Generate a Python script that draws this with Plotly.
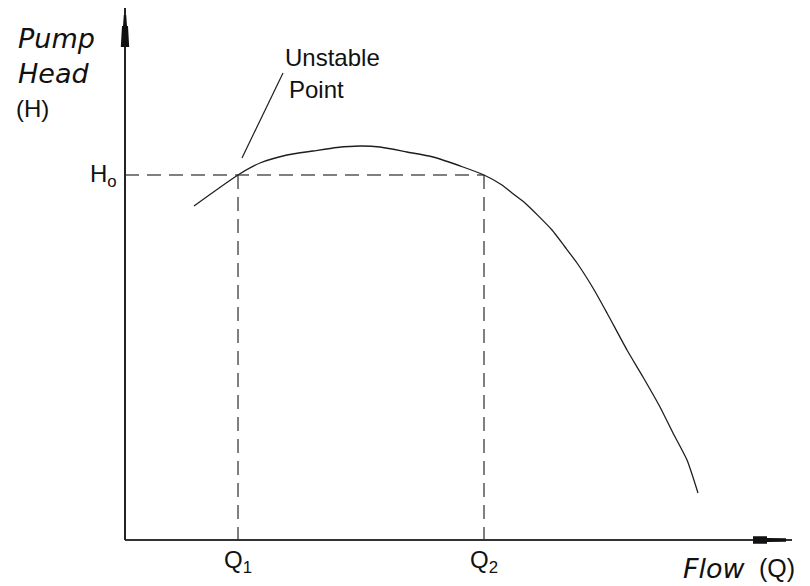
import plotly.graph_objects as go

# ---- data (arbitrary flow / head units) ----
flow = [6.9, 11.3, 13.5, 16.2, 18.8, 21.2, 23.5, 25.5, 28.2, 30.8, 33.8, 35.9,
        37.7, 38.7, 40.0, 42.7, 44.0, 45.2, 46.8, 48.2, 50.2, 51.8, 53.5, 54.8,
        56.2, 57.3]
head = [33.4, 36.5, 37.7, 38.5, 38.9, 39.25, 39.4, 39.3, 38.8, 38.3, 37.3, 36.5,
        35.5, 34.7, 33.7, 31.0, 29.3, 27.7, 25.2, 22.7, 19.0, 16.3, 13.3, 10.7,
        8.0, 4.7]
H0 = 36.5
Q1 = 11.3
Q2 = 35.9
x_tick_labels = ["Q<sub>1</sub>", "Q<sub>2</sub>"]
y_tick_label = "H<sub>o</sub>"

# page has an 8px body margin, so the figure is 802x578 and ranges cover that area
X_RANGE = [-11.7, 68.5]
Y_RANGE = [-4.6, 53.2]

INK = "#1e1e1e"
DASH = "#555555"
UP_FONT = dict(family="Liberation Sans, Arial, sans-serif", size=24, color="#111111")
IT_FONT = dict(family="DejaVu Sans, sans-serif", size=27, color="#111111", style="italic")

fig = go.Figure()

# dashed guide lines
fig.add_trace(go.Scatter(x=[0, Q2], y=[H0, H0], mode="lines",
                         line=dict(color=DASH, width=1.5, dash="14px,8px"), hoverinfo="skip"))
for q in (Q1, Q2):
    fig.add_trace(go.Scatter(x=[q, q], y=[H0, 0], mode="lines",
                             line=dict(color=DASH, width=1.5, dash="14px,8px"), hoverinfo="skip"))

# pump curve
fig.add_trace(go.Scatter(x=flow, y=head, mode="lines",
                         line=dict(color=INK, width=1.3, shape="spline", smoothing=0.6)))

shapes = [
    # axes
    dict(type="line", x0=0, y0=0, x1=66.7, y1=0, line=dict(color="#333333", width=2)),
    dict(type="line", x0=0, y0=0, x1=0, y1=53.3, line=dict(color="#222222", width=2)),
    # arrow heads
    dict(type="path", path="M -0.12 52.5 L 0.12 52.5 L 0.2 51.4 L 0.3 51.4 L 0.42 49.3 L -0.42 49.3 L -0.3 51.4 L -0.2 51.4 Z",
         fillcolor="#111111", line=dict(width=0)),
    dict(type="path", path="M 62.8 0.37 L 64.2 0.37 L 64.2 0.2 L 66.1 0.17 L 66.1 -0.17 L 64.2 -0.2 L 64.2 -0.37 L 62.8 -0.37 Z",
         fillcolor="#111111", line=dict(width=0)),
    # leader line to unstable point
    dict(type="line", x0=11.7, y0=38.2, x1=15.8, y1=46.7, line=dict(color=INK, width=1.2)),
]

annotations = [
    dict(x=15.8, y=48.3, text="Unstable", xanchor="left", yanchor="middle", font=UP_FONT),
    dict(x=16.2, y=45.1, text="Point", xanchor="left", yanchor="middle", font=UP_FONT),
    dict(x=-10.9, y=50.2, text="Pump", xanchor="left", yanchor="middle", font=IT_FONT),
    dict(x=-10.9, y=46.7, text="Head", xanchor="left", yanchor="middle", font=IT_FONT),
    dict(x=-11.1, y=43.2, text="(H)", xanchor="left", yanchor="middle", font=UP_FONT),
    dict(x=-0.6, y=H0, text=y_tick_label, xanchor="right", yanchor="middle", font=UP_FONT),
    dict(x=Q1, y=-2.1, text=x_tick_labels[0], xanchor="center", yanchor="middle", font=UP_FONT),
    dict(x=Q2, y=-2.1, text=x_tick_labels[1], xanchor="center", yanchor="middle", font=UP_FONT),
    dict(x=55.6, y=-2.8, text="Flow", xanchor="left", yanchor="middle", font=IT_FONT),
    dict(x=63.2, y=-2.8, text="(Q)", xanchor="left", yanchor="middle",
         font=dict(family="Liberation Sans, Arial, sans-serif", size=25, color="#111111")),
]
for a in annotations:
    a.update(xref="x", yref="y", showarrow=False)

fig.update_layout(
    width=802, height=578,
    margin=dict(l=0, r=0, t=0, b=0),
    paper_bgcolor="white", plot_bgcolor="white",
    showlegend=False,
    xaxis=dict(range=X_RANGE, visible=False, showgrid=False, zeroline=False, fixedrange=True),
    yaxis=dict(range=Y_RANGE, visible=False, showgrid=False, zeroline=False, fixedrange=True),
    shapes=shapes,
    annotations=annotations,
)

fig.write_html("out.html")
